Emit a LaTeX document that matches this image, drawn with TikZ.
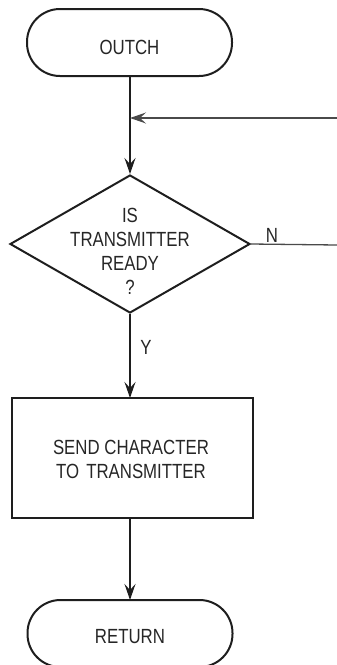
\documentclass[tikz,border=0pt]{standalone}
\usepackage{fontspec}
\setmainfont{Liberation Sans}[FakeStretch=0.82]
\usetikzlibrary{arrows.meta,shapes.geometric}
\definecolor{txtgray}{HTML}{262626}
\definecolor{linegray}{HTML}{1E1E1E}
\definecolor{thingray}{HTML}{4A4A4A}
\begin{document}
\begin{tikzpicture}[x=1pt,y=-1pt,
  >={Stealth[length=16pt,width=11pt,inset=6pt]},
  lbl/.style={text=txtgray, font=\fontsize{20.5}{24}\selectfont, align=center, inner sep=0pt},
  term/.style={draw=linegray, line width=2pt, rounded corners=33pt, minimum width=205pt, minimum height=67pt, inner sep=0pt},
  decide/.style={draw=linegray, line width=2pt, diamond, minimum width=240pt, minimum height=138pt, inner sep=0pt},
  proc/.style={draw=linegray, line width=2pt, rectangle, minimum width=241pt, minimum height=120pt, inner sep=0pt},
  flow/.style={draw=linegray, line width=2pt, ->},
  thin/.style={draw=thingray, line width=1.3pt}
]
\useasboundingbox (0,0) rectangle (337,665);
% shapes
\node[term] (start) at (129.5,42.5) {};
\node[lbl] (startt) at (129.5,47) {OUTCH};
\node[decide] (dec) at (130,244) {};
\node[lbl] (dect) at (130,251) {IS\\TRANSMITTER\\READY\\?};
\node[proc] (send) at (132.5,458) {};
\node[lbl] (sendt) at (131,459) {SEND CHARACTER\\TO\hspace{7pt}TRANSMITTER};
\node[term] (ret) at (130,633.5) {};
\node[lbl] (rett) at (130,637) {RETURN};
% connector helpers
\coordinate (join) at (130,118);
\coordinate (inR) at (337,118);
\coordinate (nR) at (337,245);
\coordinate (sendtop) at (130,398);
\coordinate (sendbot) at (130,518);
\coordinate (rettop) at (130,600);
% connectors
\draw[flow] (start.south -| join) -- (dec.north);
\draw[thin, ->] (inR) -- (join);
\draw[thin] (dec.east) -- (nR);
\node[lbl] (nlab) at (272,235) {N};
\draw[flow] (dec.south) -- (sendtop);
\node[lbl] (ylab) at (146,347) {Y};
\draw[flow] (sendbot) -- (rettop);
\end{tikzpicture}
\end{document}
